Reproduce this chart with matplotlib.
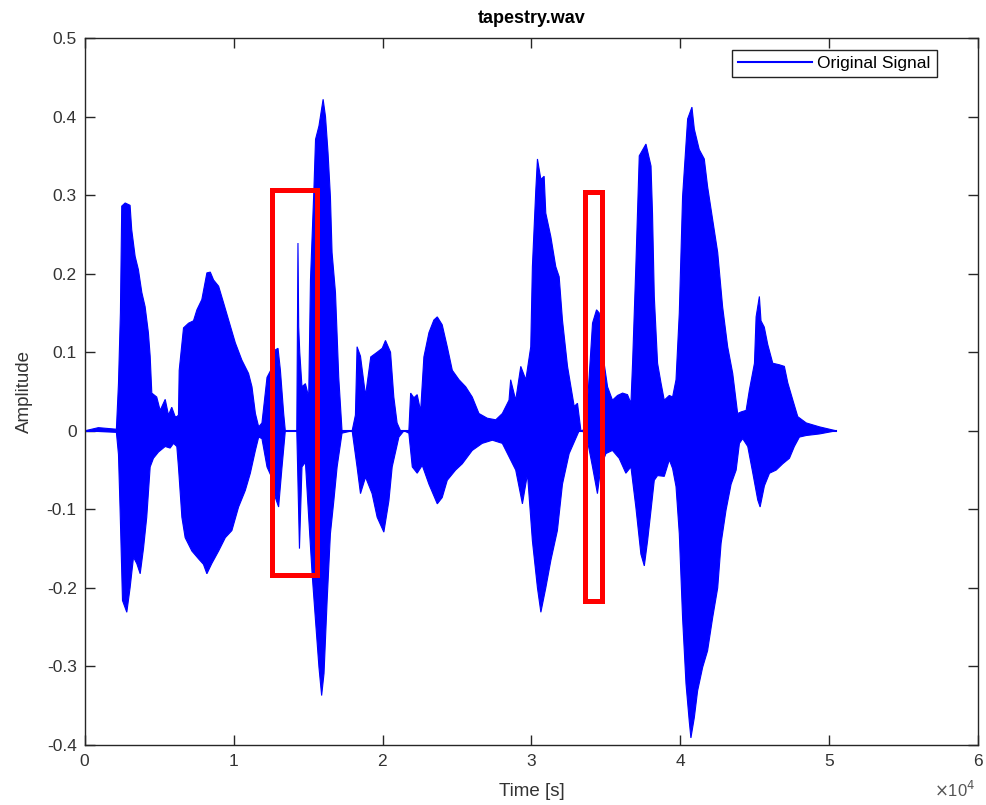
import numpy as np
import matplotlib
matplotlib.use("Agg")
import matplotlib.pyplot as plt
from matplotlib.patches import Rectangle

plt.rcParams['font.family'] = ['Liberation Sans', 'DejaVu Sans']

# upper envelope of the waveform (sample index, amplitude)
t_upper = [0, 900, 2110, 2250, 2380, 2470, 2700, 3030, 3140, 3370, 3590, 3820, 4040,
           4260, 4380, 4490, 4820, 5050, 5390, 5610, 5830, 6060, 6170, 6280, 6330,
           6620, 6960, 7290, 7520, 7850, 8190, 8420, 8640, 8980, 9310, 9650, 10100,
           10540, 10990, 11220, 11450, 11670, 11890, 12230, 12560, 12790, 12970,
           13130, 13350, 13460, 14230, 14310, 14360, 14430, 14580, 14810, 15030,
           15150, 15380, 15490, 15720, 15900, 16000, 16160, 16330, 16490, 16600,
           16830, 17050, 17270, 17950, 18170, 18280, 18510, 18850, 19200, 19630,
           19970, 20190, 20530, 20750, 20970, 21200, 21760, 21880, 22100, 22320,
           22550, 22770, 23110, 23440, 23670, 24000, 24340, 24680, 25130, 25580,
           26020, 26470, 27030, 27600, 28040, 28490, 28600, 28940, 29280, 29620,
           29950, 30060, 30290, 30400, 30630, 30850, 30960, 31300, 31630, 31860,
           32080, 32420, 32870, 33090, 33320, 33650, 34100, 34370, 34550, 34880,
           35110, 35440, 35780, 36120, 36450, 36680, 36790, 37010, 37240, 37690,
           38030, 38130, 38250, 38470, 38700, 38920, 39260, 39480, 39710, 39930,
           40150, 40490, 40780, 40940, 41270, 41610, 41830, 42170, 42510, 42840,
           43180, 43520, 43850, 44080, 44420, 44640, 44980, 45090, 45310, 45420,
           45640, 45870, 46210, 46660, 46990, 47220, 47560, 47890, 48460, 49350,
           50470]
a_upper = [0.0, 0.004, 0.002, 0.06, 0.15, 0.286, 0.29, 0.287, 0.256, 0.222, 0.205,
           0.176, 0.158, 0.125, 0.095, 0.048, 0.043, 0.026, 0.04, 0.02, 0.03, 0.018,
           0.018, 0.02, 0.077, 0.131, 0.137, 0.14, 0.154, 0.167, 0.201, 0.202, 0.192,
           0.184, 0.163, 0.141, 0.112, 0.09, 0.073, 0.056, 0.022, 0.005, 0.01, 0.068,
           0.08, 0.103, 0.105, 0.077, 0.022, 0.0, 0.0, 0.239, 0.132, 0.10, 0.056,
           0.06, 0.043, 0.192, 0.307, 0.371, 0.388, 0.41, 0.422, 0.40, 0.354, 0.298,
           0.227, 0.176, 0.068, 0.0, 0.0, 0.02, 0.107, 0.095, 0.045, 0.094, 0.10,
           0.105, 0.115, 0.10, 0.043, 0.01, 0.0, 0.0, 0.048, 0.042, 0.046, 0.025,
           0.094, 0.125, 0.141, 0.145, 0.135, 0.107, 0.077, 0.065, 0.056, 0.043,
           0.022, 0.016, 0.014, 0.022, 0.039, 0.065, 0.039, 0.082, 0.065, 0.107,
           0.209, 0.307, 0.346, 0.32, 0.324, 0.277, 0.247, 0.209, 0.196, 0.141,
           0.082, 0.031, 0.035, 0.0, 0.002, 0.137, 0.154, 0.15, 0.086, 0.056, 0.039,
           0.045, 0.048, 0.046, 0.035, 0.086, 0.209, 0.35, 0.365, 0.337, 0.277,
           0.171, 0.086, 0.061, 0.039, 0.045, 0.043, 0.065, 0.15, 0.298, 0.397,
           0.412, 0.384, 0.358, 0.346, 0.311, 0.269, 0.227, 0.158, 0.107, 0.073,
           0.022, 0.024, 0.026, 0.052, 0.086, 0.145, 0.171, 0.14, 0.132, 0.11,
           0.086, 0.084, 0.082, 0.061, 0.039, 0.018, 0.01, 0.005, 0.0]

# lower envelope of the waveform
t_lower = [0, 2110, 2250, 2360, 2520, 2810, 3030, 3260, 3480, 3710, 3930, 4150, 4380,
           4600, 4940, 5390, 5720, 5950, 6170, 6280, 6510, 6730, 7180, 7630, 7960,
           8190, 8520, 8980, 9430, 9870, 10320, 10770, 11110, 11450, 11670, 11890,
           12230, 12560, 12790, 13010, 13240, 13460, 14230, 14410, 14580, 14810,
           15030, 15260, 15490, 15720, 15900, 16060, 16270, 16490, 16720, 16940,
           17270, 17950, 18280, 18510, 18850, 19290, 19630, 20080, 20420, 20640,
           21090, 21430, 21760, 21990, 22320, 22660, 23110, 23670, 24000, 24340,
           24900, 25350, 26020, 26690, 27370, 28040, 28490, 28940, 29390, 29730,
           30060, 30400, 30630, 30960, 31300, 31740, 32080, 32530, 33200, 33650,
           34100, 34430, 34660, 35000, 35440, 35890, 36340, 36680, 37010, 37350,
           37580, 37800, 38030, 38250, 38470, 38920, 39260, 39480, 39710, 39930,
           40150, 40380, 40600, 40710, 40940, 41160, 41500, 41830, 42170, 42510,
           42740, 43070, 43410, 43750, 43970, 44190, 44530, 44870, 45200, 45360,
           45650, 45990, 46440, 46880, 47330, 47660, 48000, 48460, 49350, 50470]
a_lower = [0.0, -0.002, -0.03, -0.101, -0.216, -0.231, -0.20, -0.161, -0.169, -0.182,
           -0.15, -0.11, -0.046, -0.035, -0.027, -0.02, -0.022, -0.016, -0.02, -0.046,
           -0.11, -0.136, -0.153, -0.163, -0.17, -0.182, -0.169, -0.153, -0.136,
           -0.127, -0.097, -0.076, -0.054, -0.025, -0.008, -0.01, -0.046, -0.06,
           -0.085, -0.097, -0.046, 0.0, 0.0, -0.15, -0.046, -0.04, -0.11, -0.182,
           -0.242, -0.301, -0.337, -0.309, -0.216, -0.131, -0.089, -0.046, -0.003,
           0.0, -0.046, -0.08, -0.059, -0.08, -0.11, -0.129, -0.089, -0.046, -0.008,
           0.0, -0.003, -0.046, -0.054, -0.044, -0.068, -0.093, -0.085, -0.063,
           -0.05, -0.042, -0.025, -0.016, -0.012, -0.016, -0.033, -0.05, -0.093,
           -0.055, -0.14, -0.20, -0.231, -0.20, -0.165, -0.127, -0.068, -0.029, 0.0,
           -0.002, -0.046, -0.08, -0.046, -0.029, -0.025, -0.035, -0.054, -0.046,
           -0.097, -0.157, -0.172, -0.14, -0.101, -0.063, -0.057, -0.058, -0.037,
           -0.048, -0.071, -0.131, -0.238, -0.322, -0.37, -0.391, -0.365, -0.331,
           -0.301, -0.28, -0.238, -0.20, -0.143, -0.101, -0.068, -0.05, -0.016,
           -0.01, -0.02, -0.054, -0.088, -0.097, -0.07, -0.054, -0.05, -0.042,
           -0.035, -0.02, -0.008, -0.006, -0.004, 0.0]

# red highlight boxes
box_t0 = [12580, 33570]
box_t1 = [15590, 34750]
box_lo = [-0.183, -0.217]
box_hi = [0.307, 0.304]

fig = plt.figure(figsize=(9.87, 8.05), dpi=100)
ax = fig.add_axes([0.0861, 0.0745, 0.9048, 0.8783])

# waveform drawn as the area between its envelopes
poly_t = np.r_[t_upper, t_lower[::-1]]
poly_a = np.r_[a_upper, a_lower[::-1]]
ax.fill(poly_t, poly_a, color='#0000ff', lw=0.8)
ax.plot([t_upper[0], t_upper[-1]], [0, 0], color='#0000ff', lw=1.5,
        label='Original Signal')

for t0, t1, lo, hi in zip(box_t0, box_t1, box_lo, box_hi):
    ax.add_patch(Rectangle((t0, lo), t1 - t0, hi - lo, fill=False,
                           edgecolor='#ff0000', lw=3.6, zorder=5))

ax.set_xlim(0, 60000)
ax.set_ylim(-0.4, 0.5)
ax.set_xticks(np.arange(0, 60001, 10000))
ax.set_yticks(np.arange(-0.4, 0.51, 0.1))
ax.set_yticklabels(['-0.4', '-0.3', '-0.2', '-0.1', '0', '0.1', '0.2', '0.3', '0.4', '0.5'])
ax.ticklabel_format(axis='x', style='sci', scilimits=(0, 0), useMathText=True)
ax.xaxis.get_offset_text().set_visible(False)
fig.text(0.988, 0.006, r'$\times$10$^4$', ha='right', va='bottom',
         fontsize=12, color='#555555')

ax.tick_params(direction='in', length=7, width=1, top=True, right=True,
               labelsize=12.5, colors='#262626', labelcolor='#333333', pad=6)
for s in ax.spines.values():
    s.set_color('#262626')
    s.set_linewidth(1)

ax.set_title('tapestry.wav', fontsize=13, fontweight='bold', pad=11)
ax.set_xlabel('Time [s]', fontsize=13.5, color='#333333', labelpad=10)
ax.set_ylabel('Amplitude', fontsize=13.5, color='#333333', labelpad=10)

leg = ax.legend(loc='upper right', bbox_to_anchor=(0.954, 0.983), borderaxespad=0,
                fancybox=False, edgecolor='#222222', fontsize=12.5, handlelength=4.3,
                borderpad=0.35, handletextpad=0.3, framealpha=1)
leg.get_frame().set_linewidth(1)

fig.savefig('out.png', dpi=100)
